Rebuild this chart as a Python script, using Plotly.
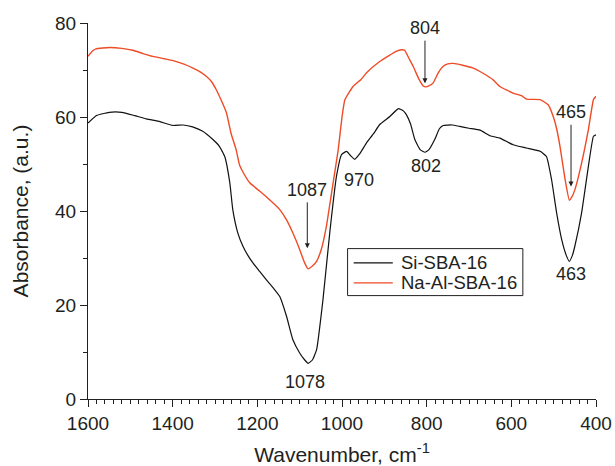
import plotly.graph_objects as go

# FTIR spectra: wavenumber (cm-1) vs absorbance (a.u.)
si_wn = [1600, 1580, 1550, 1520, 1490, 1462, 1430, 1400, 1375, 1353, 1330, 1305,
         1290, 1277, 1265, 1258, 1246, 1234, 1222, 1210, 1195, 1179, 1163, 1147,
         1131, 1116, 1100, 1088, 1080, 1070, 1060, 1045, 1029, 1013, 1001, 989,
         980, 970, 958, 942, 925, 911, 887, 867, 855, 848, 838, 828, 815, 804,
         795, 781, 770, 761, 740, 722, 700, 674, 650, 627, 596, 564, 532, 517,
         505, 493, 481, 470, 463, 456, 450, 434, 418, 406, 400]
si_abs = [58.7, 60.3, 61.0, 61.0, 60.3, 59.6, 59.0, 58.2, 58.3, 57.9, 57.0, 55.2,
          53.8, 51.6, 46.0, 40.3, 35.3, 32.5, 30.5, 28.9, 27.2, 25.4, 23.7, 21.8,
          17.6, 12.6, 9.8, 8.3, 7.6, 8.3, 10.5, 21.1, 35.3, 47.4, 52.0, 52.7,
          51.8, 51.0, 52.2, 54.5, 56.5, 58.4, 60.1, 61.8, 61.3, 60.5, 58.5, 55.2,
          53.0, 52.5, 53.0, 55.2, 57.5, 58.2, 58.3, 58.0, 57.6, 57.2, 56.0, 55.5,
          54.1, 53.4, 52.7, 51.6, 46.7, 39.6, 33.9, 30.5, 29.3, 30.5, 32.5, 39.6,
          49.5, 55.9, 56.2]

naal_wn = [1600, 1590, 1581, 1549, 1520, 1494, 1470, 1447, 1420, 1399, 1375, 1352,
           1335, 1320, 1308, 1297, 1285, 1273, 1262, 1250, 1242, 1234, 1218, 1194,
           1171, 1147, 1131, 1116, 1100, 1088, 1080, 1070, 1060, 1049, 1037, 1021,
           1009, 1000, 993, 974, 955, 942, 911, 890, 871, 860, 852, 842, 832, 818,
           808, 802, 795, 785, 772, 761, 750, 737, 715, 690, 665, 643, 627, 596,
           575, 564, 532, 513, 501, 493, 485, 473, 463, 457, 450, 434, 418, 406,
           400]
naal_abs = [72.9, 74.0, 74.5, 74.8, 74.6, 74.2, 73.5, 72.9, 72.4, 72.0, 71.3, 70.4,
            69.6, 68.6, 67.5, 65.8, 63.5, 60.9, 56.5, 53.0, 49.8, 48.3, 46.0, 44.2,
            42.4, 40.3, 38.1, 35.3, 31.8, 28.9, 27.7, 28.3, 29.3, 31.8, 36.7, 46.0,
            53.0, 60.0, 63.7, 66.5, 68.0, 69.4, 71.8, 73.0, 74.0, 74.3, 74.2, 72.5,
            70.8, 68.0, 66.6, 66.4, 66.6, 67.2, 69.5, 70.8, 71.3, 71.4, 71.0, 70.4,
            69.2, 67.9, 66.5, 65.1, 64.5, 63.8, 63.7, 62.6, 60.1, 57.5, 53.7, 46.7,
            42.3, 43.0, 44.5, 50.2, 57.3, 63.7, 64.4]

series_names = ["Si-SBA-16", "Na-Al-SBA-16"]
series_colors = ["#111111", "#ee4b26"]
x_ticks = [1600, 1400, 1200, 1000, 800, 600, 400]
y_ticks = [0, 20, 40, 60, 80]

# band labels: (text, x, y) without arrows
plain_labels = [("1078", 1088, 3.7), ("970", 960, 46.7), ("802", 802, 49.5),
                ("463", 460, 26.6)]
# band labels with arrows: (text, band position, label y, arrow head y)
arrow_labels = [("1087", 1082, 44.5, 32.1),
                ("804", 804, 78.9, 67.2),
                ("465", 459, 61.0, 45.2)]

ink = "#231f20"
font = "Liberation Sans, Arial, sans-serif"

fig = go.Figure()
fig.add_trace(go.Scatter(x=si_wn, y=si_abs, mode="lines", name=series_names[0],
                         showlegend=False,
                         line=dict(color=series_colors[0], width=1.2, shape="spline",
                                   smoothing=0.4)))
fig.add_trace(go.Scatter(x=naal_wn, y=naal_abs, mode="lines", name=series_names[1],
                         showlegend=False,
                         line=dict(color=series_colors[1], width=1.4, shape="spline",
                                   smoothing=0.4)))

for text, x, y in plain_labels:
    fig.add_annotation(x=x, y=y, text=text, showarrow=False,
                       font=dict(size=18, color=ink, family=font))

for text, x, ty, head in arrow_labels:
    fig.add_annotation(x=x, y=head, ax=x, ay=ty, axref="x", ayref="y",
                       text=text, showarrow=True, arrowhead=2, arrowsize=1,
                       arrowwidth=1, arrowcolor=ink, borderpad=2,
                       font=dict(size=18, color=ink, family=font))

# boxed legend inside the plot area
leg_x0, leg_x1, leg_y0, leg_y1 = 0.511, 0.856, 0.275, 0.400
leg_rows = [0.362, 0.309]
fig.add_shape(type="rect", xref="paper", yref="paper", x0=leg_x0, x1=leg_x1,
              y0=leg_y0, y1=leg_y1, line=dict(color=ink, width=1),
              fillcolor="white")
for name, color, ry in zip(series_names, series_colors, leg_rows):
    fig.add_shape(type="line", xref="paper", yref="paper", x0=0.523, x1=0.600,
                  y0=ry, y1=ry, line=dict(color=color, width=1.3))
    fig.add_annotation(xref="paper", yref="paper", x=0.612, y=ry, text=name,
                       xanchor="left", yanchor="middle", showarrow=False,
                       font=dict(size=18.5, color=ink, family=font))

axis_common = dict(showline=True, linecolor=ink, linewidth=1, ticks="outside",
                   ticklen=7, tickwidth=1, tickcolor=ink, showgrid=False,
                   zeroline=False, mirror=False, automargin=False,
                   tickfont=dict(size=19, color=ink, family=font))

fig.update_xaxes(range=[1600, 400], tickvals=x_ticks,
                 minor=dict(dtick=20, ticklen=4, tickcolor=ink, ticks="outside",
                            showgrid=False),
                 title=dict(text="Wavenumber, cm<sup>-1</sup>",
                            font=dict(size=21, color=ink, family=font), standoff=14),
                 **axis_common)
fig.update_yaxes(range=[0, 80], tickvals=y_ticks,
                 minor=dict(dtick=10, ticklen=4, tickcolor=ink, ticks="outside",
                            showgrid=False),
                 title=dict(text="Absorbance, (a.u.)",
                            font=dict(size=21, color=ink, family=font), standoff=20),
                 **axis_common)

fig.update_layout(
    width=615, height=466,
    margin=dict(l=88, r=19, t=23, b=67),
    plot_bgcolor="white", paper_bgcolor="white",
    font=dict(family=font, color=ink),
    showlegend=False,
)

fig.write_html("out.html")
